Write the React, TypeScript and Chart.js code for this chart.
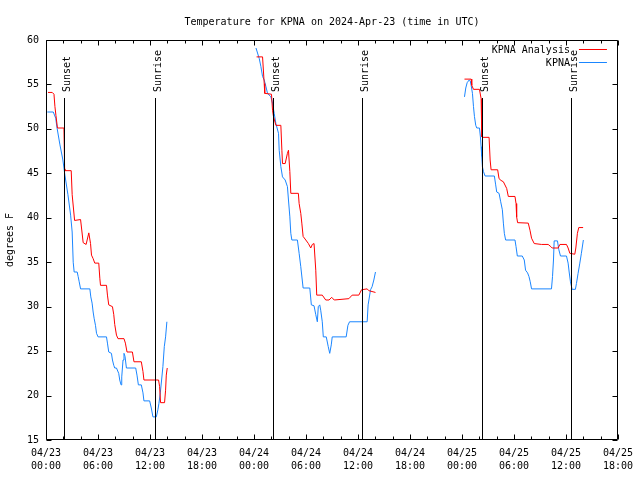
import React, { useEffect, useRef } from 'react';
import { Chart, registerables } from 'chart.js';

Chart.register(...registerables);

const FONT = 'DejaVu Sans Mono';
const TITLE = 'Temperature for KPNA on 2024-Apr-23 (time in UTC)';
const Y_TITLE = 'degrees F';
const SERIES_NAMES = ['KPNA Analysis', 'KPNA'];
const SERIES_COLORS = ['#ff0000', '#1a86ff'];

// hours since 04/23 00:00 UTC
const X_MIN = 0;
const X_MAX = 66;
const X_STEP = 6;
const X_MINOR_STEP = 2;
const X_TICK_DATES = ['04/23', '04/23', '04/23', '04/23', '04/24', '04/24', '04/24', '04/24', '04/25', '04/25', '04/25', '04/25'];
const X_TICK_TIMES = ['00:00', '06:00', '12:00', '18:00', '00:00', '06:00', '12:00', '18:00', '00:00', '06:00', '12:00', '18:00'];
const Y_MIN = 15;
const Y_MAX = 60;
const Y_STEP = 5;

const SUN_HOURS = [2.13, 12.53, 26.14, 36.49, 50.28, 60.56];
const SUN_LABELS = ['Sunset', 'Sunrise', 'Sunset', 'Sunrise', 'Sunset', 'Sunrise'];

// KPNA Analysis (null = gap between nights)
const ANALYSIS_HOURS = [
  0.23, 0.72, 0.92, 1.03, 1.15, 1.32, 2.07, 2.15, 2.18, 2.91, 3.02, 3.30, 3.99, 4.29, 4.63, 4.94, 5.14, 5.25,
  5.44, 5.63, 6.09, 6.21, 6.29, 6.98, 7.09, 7.24, 7.67, 7.82, 7.93, 8.13, 8.31, 9.00, 9.16, 9.35, 9.97, 10.15,
  11.00, 11.19, 11.30, 12.99, 13.11, 13.22, 13.68, 13.80, 13.88, 13.99,
  19.0,
  24.30, 24.99, 25.18, 25.24, 26.02, 26.14, 26.25, 26.53, 27.10, 27.22, 27.29, 27.60, 27.86, 27.98, 28.14, 28.25,
  29.12, 29.21, 29.40, 29.52, 29.67, 29.98, 30.28, 30.55, 30.73, 30.93, 31.13, 31.24, 31.88, 32.28, 32.66, 32.97,
  33.26, 34.95, 35.33, 36.10, 36.41, 37.06, 37.25, 38.02,
  43.0,
  48.29, 49.06, 49.13, 49.33, 50.02, 50.21, 50.28, 50.30, 50.40, 51.13, 51.25, 51.36, 52.12, 52.28, 52.51, 52.78,
  53.16, 53.35, 54.12, 54.24, 54.31, 54.42, 55.65, 55.85, 56.03, 56.34, 57.18, 57.95, 58.26, 58.41, 59.10, 59.30,
  60.06, 60.25, 60.45, 61.02, 61.14, 61.32, 61.48, 61.98,
];
const ANALYSIS_TEMPS = [
  54.1, 54.1, 53.9, 52.5, 51.5, 50.1, 50.1, 45.5, 45.3, 45.3, 42.6, 39.7, 39.8, 37.2, 37.0, 38.3, 37.1, 35.8,
  35.4, 34.9, 34.9, 33.2, 32.4, 32.4, 31.3, 30.2, 30.0, 29.1, 28.0, 26.8, 26.4, 26.4, 25.9, 24.9, 24.9, 23.8,
  23.8, 22.7, 21.75, 21.75, 21.0, 19.2, 19.2, 20.6, 22.3, 23.1,
  null,
  58.1, 58.1, 55.1, 54.0, 53.9, 52.1, 51.4, 50.4, 50.4, 47.6, 46.1, 46.1, 47.25, 47.6, 45.2, 42.75,
  42.75, 41.6, 40.5, 39.4, 37.9, 37.5, 37.1, 36.6, 37.0, 37.1, 34.1, 31.3, 31.3, 30.75, 30.75, 31.05,
  30.75, 30.9, 31.3, 31.3, 31.9, 32.0, 31.8, 31.6,
  null,
  55.6, 55.6, 54.9, 54.45, 54.45, 53.4, 51.75, 49.1, 49.05, 49.05, 46.5, 45.4, 45.4, 44.4, 44.2, 44.05,
  43.3, 42.4, 42.4, 41.6, 40.1, 39.45, 39.4, 38.6, 37.7, 37.1, 37.0, 37.0, 36.75, 36.6, 36.6, 37.0,
  37.0, 36.6, 36.0, 35.9, 36.6, 38.25, 38.9, 38.9,
];

// KPNA observations
const OBS_HOURS = [
  0.15, 0.84, 1.12, 1.26, 1.61, 1.95, 2.18, 2.53, 2.84, 3.02, 3.14, 3.25, 3.60, 3.71, 3.83, 3.99, 5.06, 5.17,
  5.32, 5.44, 5.55, 5.71, 5.83, 6.01, 6.98, 7.09, 7.24, 7.55, 7.67, 7.82, 7.93, 8.13, 8.39, 8.51, 8.66, 8.74,
  8.89, 9.00, 9.12, 9.28, 10.35, 10.50, 10.66, 11.00, 11.19, 11.30, 11.96, 12.15, 12.34, 12.73, 12.91, 13.03,
  13.19, 13.34, 13.49, 13.65, 13.80, 13.95,
  19.0,
  24.23, 24.61, 24.80, 24.99, 25.18, 25.38, 25.56, 25.95, 26.14, 26.33, 26.53, 26.83, 26.91, 27.10, 27.29, 27.60,
  27.86, 27.98, 28.14, 28.25, 28.37, 29.01, 29.21, 29.40, 29.67, 30.44, 30.62, 30.93, 31.13, 31.31, 31.42, 31.59,
  31.70, 31.88, 32.00, 32.34, 32.57, 32.74, 32.92, 33.03, 34.64, 34.84, 35.03, 37.06, 37.17, 37.45, 37.63, 37.83,
  38.02,
  43.0,
  48.29, 48.44, 48.60, 48.83, 48.95, 49.06, 49.21, 49.33, 49.44, 49.59, 49.71, 50.02, 50.13, 50.21, 50.28, 50.36,
  50.48, 50.67, 51.74, 51.89, 52.01, 52.28, 52.47, 52.66, 52.78, 52.89, 53.04, 54.12, 54.24, 54.39, 54.96, 55.19,
  55.34, 55.57, 55.73, 55.88, 56.03, 58.33, 58.45, 58.56, 58.64, 59.02, 59.18, 59.37, 60.06, 60.25, 60.37, 60.52,
  60.71, 61.09, 61.21, 61.40, 61.60, 61.78, 62.01,
];
const OBS_TEMPS = [
  51.9, 51.9, 51.2, 50.2, 48.2, 46.5, 44.8, 42.6, 40.3, 38.4, 35.0, 33.9, 33.9, 33.4, 32.8, 32.0, 32.0, 31.1,
  30.4, 29.4, 28.7, 27.9, 27.0, 26.6, 26.6, 25.9, 24.9, 24.75, 24.0, 23.4, 23.1, 23.1, 22.5, 21.75, 21.2, 22.1,
  24.0, 24.75, 24.4, 23.1, 23.1, 22.3, 21.2, 21.2, 20.3, 19.4, 19.4, 18.6, 17.6, 17.6, 18.4, 19.1,
  20.3, 21.75, 23.25, 25.5, 26.6, 28.3,
  null,
  59.1, 57.9, 57.0, 55.9, 55.5, 54.75, 54.0, 53.6, 52.9, 51.75, 50.6, 49.5, 47.6, 45.75, 44.6, 44.25,
  43.5, 42.0, 40.1, 38.25, 37.5, 37.5, 36.0, 34.5, 32.1, 32.1, 30.2, 30.1, 29.1, 28.3, 30.0, 30.2,
  29.6, 28.3, 26.6, 26.6, 25.5, 24.75, 25.7, 26.6, 26.6, 27.9, 28.3, 28.3, 30.2, 31.9, 32.25, 33.0,
  33.9,
  null,
  53.6, 54.6, 55.2, 55.5, 55.4, 54.9, 54.0, 52.5, 51.4, 50.4, 50.1, 50.1, 49.1, 48.0, 46.9, 45.75,
  45.2, 44.7, 44.7, 43.7, 42.9, 42.75, 41.8, 40.9, 39.4, 38.25, 37.5, 37.5, 36.75, 35.7, 35.7, 35.25,
  34.1, 33.8, 33.4, 32.8, 32.0, 32.0, 33.4, 35.25, 37.4, 37.4, 36.4, 35.7, 35.7, 34.9, 33.9, 32.8,
  31.95, 31.95, 32.6, 33.75, 34.9, 36.0, 37.5,
];

const gnuplotFrame = {
  id: 'gnuplotFrame',
  beforeDraw(chart: any) {
    const { ctx, width, height } = chart;
    ctx.save();
    ctx.fillStyle = '#ffffff';
    ctx.fillRect(0, 0, width, height);
    ctx.restore();
  },
  afterDatasetsDraw(chart: any) {
    const { ctx, chartArea: a, scales } = chart;
    const xs = scales.x;
    const ys = scales.y;
    ctx.save();
    ctx.strokeStyle = '#000000';
    ctx.fillStyle = '#000000';
    ctx.lineWidth = 1;

    // sunrise / sunset markers
    ctx.font = `10px "${FONT}"`;
    SUN_HOURS.forEach((h, i) => {
      const px = Math.round(xs.getPixelForValue(h)) + 0.5;
      ctx.beginPath();
      ctx.moveTo(px, a.top + 58);
      ctx.lineTo(px, a.bottom);
      ctx.stroke();
      ctx.save();
      ctx.translate(px + 5.5, a.top + 52);
      ctx.rotate(-Math.PI / 2);
      ctx.textAlign = 'left';
      ctx.textBaseline = 'alphabetic';
      ctx.fillText(SUN_LABELS[i], 0, 0);
      ctx.restore();
    });

    // border
    const L = Math.round(a.left) + 0.5;
    const R = Math.round(a.right) - 0.5;
    const T = Math.round(a.top) + 0.5;
    const B = Math.round(a.bottom) - 0.5;
    ctx.beginPath();
    ctx.rect(L, T, R - L, B - T);
    ctx.stroke();

    // x ticks (major + minor), mirrored on top
    ctx.beginPath();
    for (let h = X_MIN; h <= X_MAX; h += X_MINOR_STEP) {
      const px = Math.round(xs.getPixelForValue(h)) + 0.5;
      const len = h % X_STEP === 0 ? 5 : 3;
      ctx.moveTo(px, B);
      ctx.lineTo(px, B - len);
      ctx.moveTo(px, T);
      ctx.lineTo(px, T + len);
    }
    // y ticks, mirrored on right
    for (let v = Y_MIN; v <= Y_MAX; v += Y_STEP) {
      const py = Math.round(ys.getPixelForValue(v)) + 0.5;
      ctx.moveTo(L, py);
      ctx.lineTo(L + 5, py);
      ctx.moveTo(R, py);
      ctx.lineTo(R - 5, py);
    }
    ctx.stroke();
    ctx.restore();
  },
  afterDraw(chart: any) {
    const { ctx, chartArea: a } = chart;
    ctx.save();
    ctx.fillStyle = '#000000';
    ctx.font = `10px "${FONT}"`;
    // title centred over the plot area
    ctx.textAlign = 'center';
    ctx.textBaseline = 'alphabetic';
    ctx.fillText(TITLE, (a.left + a.right) / 2, 25);
    // legend
    ctx.textAlign = 'right';
    ctx.textBaseline = 'middle';
    SERIES_NAMES.forEach((name, i) => {
      const yy = Math.round(a.top + 9 + 13 * i) + 0.5;
      ctx.fillStyle = '#000000';
      ctx.fillText(name, a.right - 48, yy + 1);
      ctx.strokeStyle = SERIES_COLORS[i];
      ctx.lineWidth = 1;
      ctx.beginPath();
      ctx.moveTo(a.right - 39, yy);
      ctx.lineTo(a.right - 11, yy);
      ctx.stroke();
    });
    ctx.restore();
  },
};

export default function App() {
  const canvasRef = useRef<HTMLCanvasElement | null>(null);

  useEffect(() => {
    const canvas = canvasRef.current;
    if (!canvas) return;
    const tickFont = { family: FONT, size: 10, lineHeight: 1.3 };
    const chart = new Chart(canvas, {
      type: 'line',
      data: {
        datasets: [
          {
            label: SERIES_NAMES[0],
            data: ANALYSIS_HOURS.map((h, i) => ({ x: h, y: ANALYSIS_TEMPS[i] })),
            borderColor: SERIES_COLORS[0],
            borderWidth: 1,
            pointRadius: 0,
            fill: false,
            tension: 0,
          },
          {
            label: SERIES_NAMES[1],
            data: OBS_HOURS.map((h, i) => ({ x: h, y: OBS_TEMPS[i] })),
            borderColor: SERIES_COLORS[1],
            borderWidth: 1,
            pointRadius: 0,
            fill: false,
            tension: 0,
          },
        ],
      },
      options: {
        animation: false,
        responsive: false,
        devicePixelRatio: 1,
        layout: { padding: { left: 0, right: 19, top: 40, bottom: 0 } },
        plugins: {
          legend: { display: false },
          title: { display: false },
          tooltip: { enabled: false },
        },
        scales: {
          x: {
            type: 'linear',
            min: X_MIN,
            max: X_MAX,
            grid: { display: false, drawTicks: false },
            border: { display: false },
            ticks: {
              stepSize: X_STEP,
              autoSkip: false,
              maxRotation: 0,
              minRotation: 0,
              padding: 7,
              color: '#000000',
              font: tickFont,
              callback: (v: any) => {
                const i = Math.round((Number(v) - X_MIN) / X_STEP);
                return [X_TICK_DATES[i], X_TICK_TIMES[i]];
              },
            },
            afterFit: (s: any) => {
              s.height = 40;
            },
          },
          y: {
            type: 'linear',
            min: Y_MIN,
            max: Y_MAX,
            grid: { display: false, drawTicks: false },
            border: { display: false },
            title: {
              display: true,
              text: Y_TITLE,
              color: '#000000',
              font: { family: FONT, size: 10, lineHeight: 1.2 },
              padding: { top: 4, bottom: 0 },
            },
            ticks: {
              stepSize: Y_STEP,
              padding: 7,
              color: '#000000',
              font: { family: FONT, size: 10 },
            },
            afterFit: (s: any) => {
              s.width = 46;
            },
          },
        },
      } as any,
      plugins: [gnuplotFrame],
    });
    return () => chart.destroy();
  }, []);

  return (
    <div style={{ position: 'absolute', left: 0, top: 0, width: 640, height: 480, background: '#ffffff' }}>
      <canvas ref={canvasRef} width={640} height={480} style={{ width: 640, height: 480, display: 'block' }} />
    </div>
  );
}
